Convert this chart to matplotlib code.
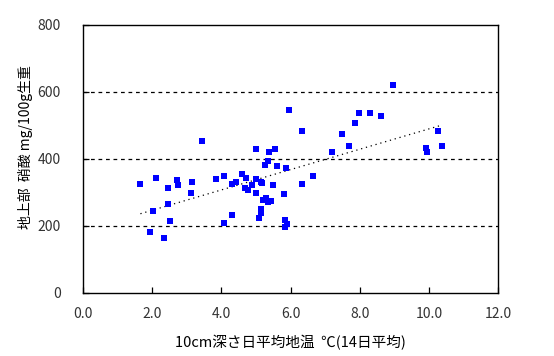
#!/usr/bin/env python3
"""
Soil temperature vs nitrate content scatter with trend line
"""

import numpy as np
import matplotlib
matplotlib.use("Agg")
import matplotlib.pyplot as plt

plt.rcParams['font.family'] = ['Noto Sans CJK JP', 'DejaVu Sans']

# soil temperature at 10cm depth (14-day mean), degC
temp = [1.66, 2.11, 2.02, 1.95, 2.35, 2.47, 2.45, 2.53, 2.73, 2.76,
        3.16, 3.13, 3.45, 3.86, 4.09, 4.09, 4.30, 4.30, 4.41, 4.61,
        4.71, 4.67, 4.76, 4.90, 5.00, 5.01, 5.01, 5.15, 5.18, 5.09,
        5.14, 5.16, 5.20, 5.28, 5.35, 5.43, 5.26, 5.35, 5.39, 5.54,
        5.50, 5.62, 5.81, 5.88, 5.85, 5.91, 5.85, 5.97, 6.34, 6.66,
        6.33, 7.21, 7.50, 7.70, 7.85, 7.98, 8.31, 8.63, 8.97, 9.91,
        9.96, 10.25, 10.39]
# nitrate, mg/100g fresh weight
nitrate = [324, 342, 244, 181, 163, 313, 265, 214, 336, 321,
           332, 298, 453, 341, 350, 208, 232, 324, 331, 354,
           342, 313, 307, 321, 430, 341, 298, 330, 327, 224,
           251, 240, 278, 284, 272, 274, 381, 395, 420, 429,
           322, 378, 295, 372, 218, 205, 196, 546, 324, 348,
           484, 420, 474, 438, 507, 537, 537, 527, 620, 432,
           422, 484, 438]

xticks = [0, 2, 4, 6, 8, 10, 12]
yticks = [0, 200, 400, 600, 800]


def main():
    fig = plt.figure(figsize=(5.54, 3.56), dpi=100)
    ax = fig.add_axes([0.1498, 0.177, 0.7492, 0.753])

    x = np.array(temp)
    y = np.array(nitrate)

    # linear trend over the data range
    k, b = np.polyfit(x, y, 1)
    xs = np.array([x.min(), x.max()])
    ax.plot(xs, k * xs + b, color='black', lw=0.9, ls=(0, (1, 3)), zorder=2)

    ax.scatter(x, y, marker='s', s=22, color='#0000ff', lw=0, zorder=3)

    ax.set_xlim(0, 12)
    ax.set_ylim(0, 800)
    ax.set_xticks(xticks)
    ax.set_xticklabels([f"{t:.1f}" for t in xticks])
    ax.set_yticks(yticks)
    for g in yticks[1:-1]:
        ax.axhline(g, color='black', lw=0.9, ls=(0, (3, 3)), zorder=1)

    ax.tick_params(direction='in', length=4, width=0.9, labelsize=10,
                   labelcolor='#333333')
    ax.tick_params(axis='x', pad=10)
    ax.tick_params(axis='y', pad=16)
    for s in ax.spines.values():
        s.set_linewidth(1)

    ax.set_xlabel("10cm深さ日平均地温  ℃(14日平均)", fontsize=10.5, labelpad=10)
    ax.set_ylabel("地上部  硝酸 mg/100g生重", fontsize=10)
    ax.yaxis.set_label_coords(-0.12, 0.545)

    plt.savefig('out.png', dpi=100)


if __name__ == "__main__":
    main()
